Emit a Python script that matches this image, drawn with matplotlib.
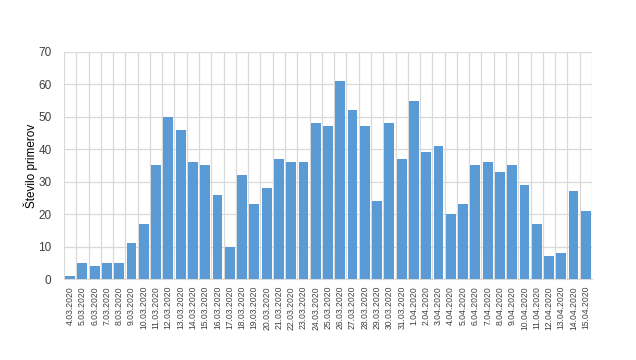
import matplotlib
matplotlib.use("Agg")
import matplotlib.pyplot as plt
import numpy as np

# daily counts, 4.03.2020 .. 15.04.2020
dates = ["4.03.2020", "5.03.2020", "6.03.2020", "7.03.2020", "8.03.2020", "9.03.2020",
         "10.03.2020", "11.03.2020", "12.03.2020", "13.03.2020", "14.03.2020", "15.03.2020",
         "16.03.2020", "17.03.2020", "18.03.2020", "19.03.2020", "20.03.2020", "21.03.2020",
         "22.03.2020", "23.03.2020", "24.03.2020", "25.03.2020", "26.03.2020", "27.03.2020",
         "28.03.2020", "29.03.2020", "30.03.2020", "31.03.2020", "1.04.2020", "2.04.2020",
         "3.04.2020", "4.04.2020", "5.04.2020", "6.04.2020", "7.04.2020", "8.04.2020",
         "9.04.2020", "10.04.2020", "11.04.2020", "12.04.2020", "13.04.2020", "14.04.2020",
         "15.04.2020"]
cases = [1, 5, 4, 5, 5, 11, 17, 35, 50, 46, 36, 35, 26, 10, 32, 23, 28, 37, 36, 36, 48, 47,
         61, 52, 47, 24, 48, 37, 55, 39, 41, 20, 23, 35, 36, 33, 35, 29, 17, 7, 8, 27, 21]

plt.rcParams['font.family'] = ['Liberation Sans', 'DejaVu Sans']

fig = plt.figure(figsize=(6.36, 3.6), dpi=100)
ax = fig.add_axes([0.1006, 0.225, 0.8302, 0.631])

x = np.arange(len(dates))
ax.bar(x, cases, width=0.8, color="#5B9BD5", zorder=3)

ax.set_xlim(-0.5, len(dates) - 0.5)
ax.set_ylim(0, 70)
ax.set_yticks(range(0, 71, 10))
ax.set_xticks(x)
ax.set_xticklabels(dates, rotation=90, fontsize=6.2, color="#404040")
ax.tick_params(axis='x', length=0, pad=5)
ax.tick_params(axis='y', length=0, pad=9, labelsize=8.5, labelcolor="#404040")

# vertical gridlines at category boundaries, Excel style
ax.set_xticks(np.arange(-0.5, len(dates), 1), minor=True)
ax.grid(axis='x', which='minor', color="#D9D9D9", lw=0.9, zorder=0)
ax.grid(axis='y', which='major', color="#D9D9D9", lw=0.9, zorder=0)
ax.tick_params(axis='x', which='minor', length=0)

for s in ['top', 'right', 'left']:
    ax.spines[s].set_visible(False)
ax.spines['bottom'].set_color("#D9D9D9")

ax.set_ylabel("Število primerov", fontsize=8.5, color="#000000")
ax.yaxis.set_label_coords(-0.049, 0.5)

plt.savefig("out.png", dpi=100)
